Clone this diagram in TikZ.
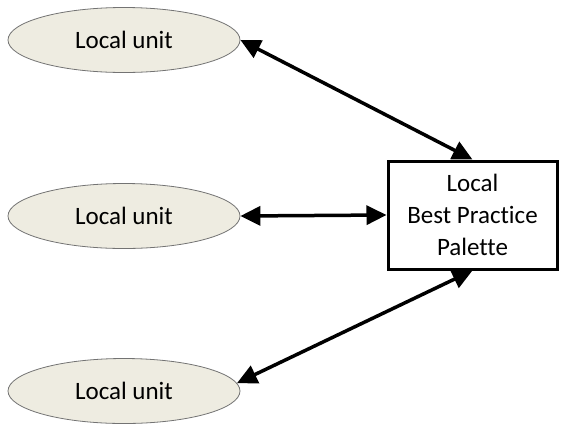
\documentclass[tikz,border=0pt]{standalone}
\usepackage{fontspec}
\setmainfont[Ligatures=NoCommon]{Carlito}
\usetikzlibrary{arrows.meta,shapes.geometric}
\definecolor{unitfill}{HTML}{EEECE1}
\tikzset{
  unit/.style={ellipse, draw=black!55, line width=0.8pt, fill=unitfill,
    minimum width=232pt, minimum height=65pt, inner sep=0pt, font=\fontsize{25}{30}\selectfont},
  palette/.style={draw=black, line width=3pt, fill=white, minimum width=169pt,
    minimum height=108pt, align=center, font=\fontsize{25}{32}\selectfont},
  link/.style={line width=3.5pt, {Triangle[length=20pt,width=19pt]}-{Triangle[length=20pt,width=19pt]}}
}
\begin{document}
\begin{tikzpicture}[x=1pt,y=-1pt]
  \useasboundingbox (0,0) rectangle (561,426);
  \node[unit] (u1) at (124,40) {Local unit};
  \node[unit] (u2) at (124,216) {Local unit};
  \node[unit] (u3) at (124,391) {Local unit};
  \node[palette] (p) at (472.5,215) {Local\\Best Practice\\Palette};
  \draw[link] (u1.east) -- (p.north);
  \draw[link] (u2.east) -- (p.west);
  \draw[link] (u3.4) -- (p.south);
\end{tikzpicture}
\end{document}
